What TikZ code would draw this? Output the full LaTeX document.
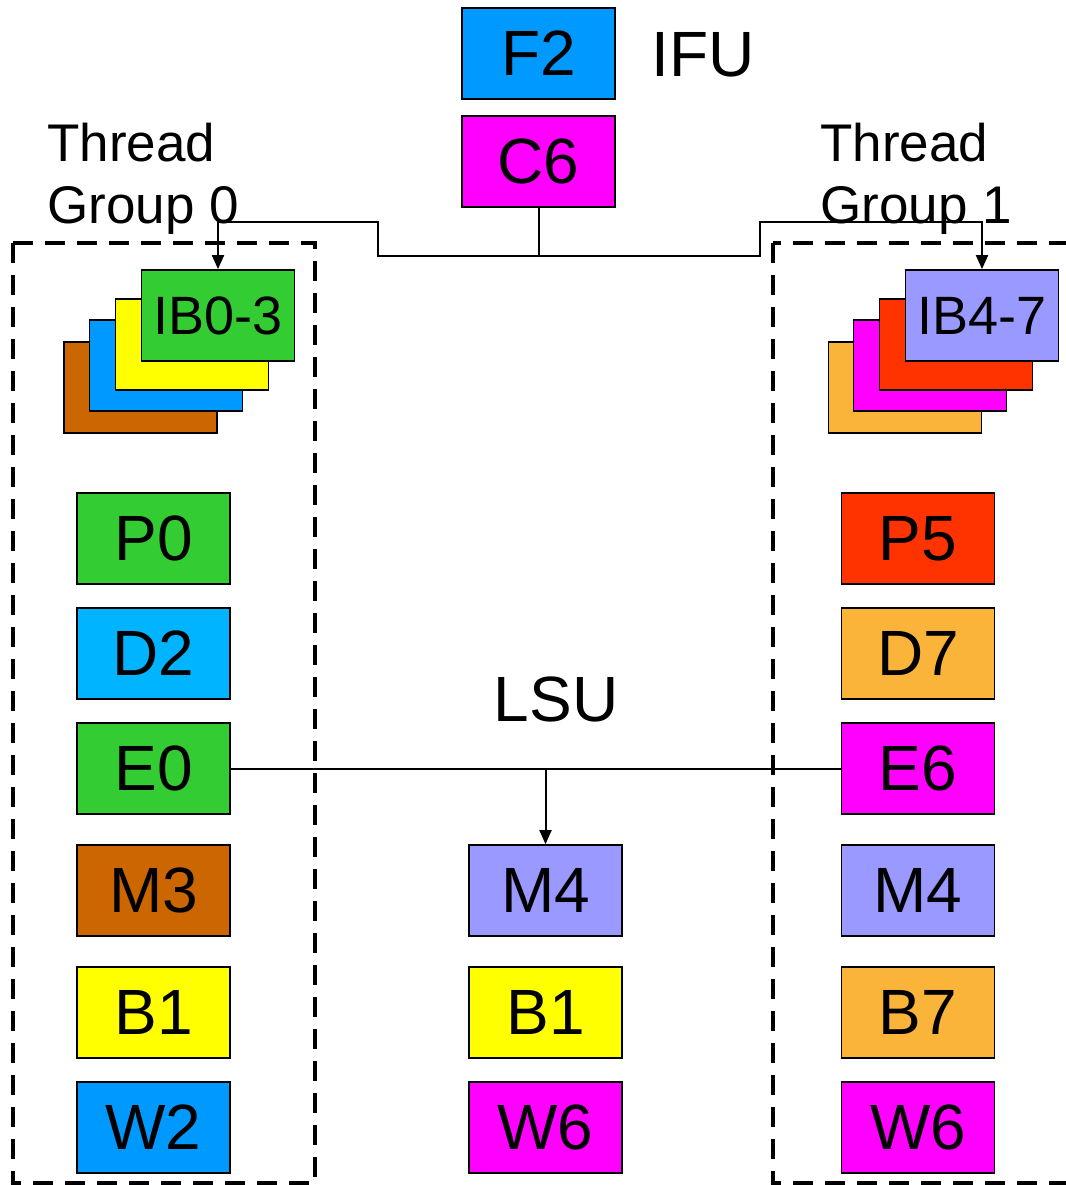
\documentclass[tikz,border=0pt]{standalone}
\usepackage{fontspec}
\setmainfont{Liberation Sans}
\usetikzlibrary{arrows.meta}
\definecolor{ifublue}{HTML}{0099FF}
\definecolor{lightblue}{HTML}{00B4FF}
\definecolor{mag}{HTML}{FF00FF}
\definecolor{grn}{HTML}{33CC33}
\definecolor{brn}{HTML}{CC6600}
\definecolor{ylw}{HTML}{FFFF00}
\definecolor{peri}{HTML}{9999FF}
\definecolor{rd}{HTML}{FF3300}
\definecolor{org}{HTML}{FBB43A}
\begin{document}
\begin{tikzpicture}[x=1pt, y=-1pt,
	stage/.style={draw, line width=1.8pt, minimum width=153pt, minimum height=91pt, inner sep=0pt, font=\fontsize{64}{70}\selectfont},
	ibuf/.style={stage, font=\fontsize{54}{60}\selectfont},
	label/.style={font=\fontsize{64}{70}\selectfont, anchor=base},
	group/.style={font=\fontsize{53}{62}\selectfont, align=left, anchor=north west, inner sep=0pt},
	arr/.style={line width=2pt, -{Triangle[length=14pt, width=12pt]}},
	wire/.style={line width=2pt},
	region/.style={line width=4.5pt, dash pattern=on 20pt off 12pt}]
	\useasboundingbox (0,0) rectangle (1065,1185);
	\draw[region] (13,243) rectangle (315,1183);
	\draw[region] (773,243) rectangle (1085,1183);
	\node[stage, fill=ifublue] (f2) at (538.5,53.5) {F2};
	\node[stage, fill=mag] (c6) at (538.5,161.5) {C6};
	\node[label] (ifu) at (703,77) {IFU};
	\node[group] (tg0) at (47,123) {Thread\\Group 0};
	\node[group] (tg1) at (820,123) {Thread\\Group 1};
	% instruction buffers
	\node[stage, fill=brn] (ib0d) at (140.5,387.5) {};
	\node[stage, fill=ifublue] (ib0c) at (166,365.5) {};
	\node[stage, fill=ylw] (ib0b) at (192,344.5) {};
	\node[ibuf, fill=grn] (ib0) at (218,315.5) {IB0-3};
	\node[stage, fill=org] (ib4d) at (905,387.5) {};
	\node[stage, fill=mag] (ib4c) at (930,365.5) {};
	\node[stage, fill=rd] (ib4b) at (956,344.5) {};
	\node[ibuf, fill=peri] (ib4) at (982,315.5) {IB4-7};
	% thread group 0
	\node[stage, fill=grn] (p0) at (153.5,538.5) {P0};
	\node[stage, fill=lightblue] (d2) at (153.5,653.5) {D2};
	\node[stage, fill=grn] (e0) at (153.5,768.5) {E0};
	\node[stage, fill=brn] (m3) at (153.5,890.5) {M3};
	\node[stage, fill=ylw] (b1) at (153.5,1012.5) {B1};
	\node[stage, fill=ifublue] (w2) at (153.5,1127.5) {W2};
	% lsu
	\node[label] (lsu) at (556,721) {LSU};
	\node[stage, fill=peri] (m4) at (545.5,890.5) {M4};
	\node[stage, fill=ylw] (b1l) at (545.5,1012.5) {B1};
	\node[stage, fill=mag] (w6) at (545.5,1127.5) {W6};
	% thread group 1
	\node[stage, fill=rd] (p5) at (918,538.5) {P5};
	\node[stage, fill=org] (d7) at (918,653.5) {D7};
	\node[stage, fill=mag] (e6) at (918,768.5) {E6};
	\node[stage, fill=peri] (m4r) at (918,890.5) {M4};
	\node[stage, fill=org] (b7) at (918,1012.5) {B7};
	\node[stage, fill=mag] (w6r) at (918,1127.5) {W6};
	% connections
	\coordinate (tee) at (538.5,256);
	\draw[wire] (c6.south) -- (tee);
	\draw[arr] (tee) -- (378,256) -- (378,222) -| (ib0.north);
	\draw[arr] (tee) -- (760,256) -- (760,222) -| (ib4.north);
	\draw[wire] (e0.east) -- (e6.west);
	\draw[arr] (m4.north |- e0.east) -- (m4.north);
\end{tikzpicture}
\end{document}
